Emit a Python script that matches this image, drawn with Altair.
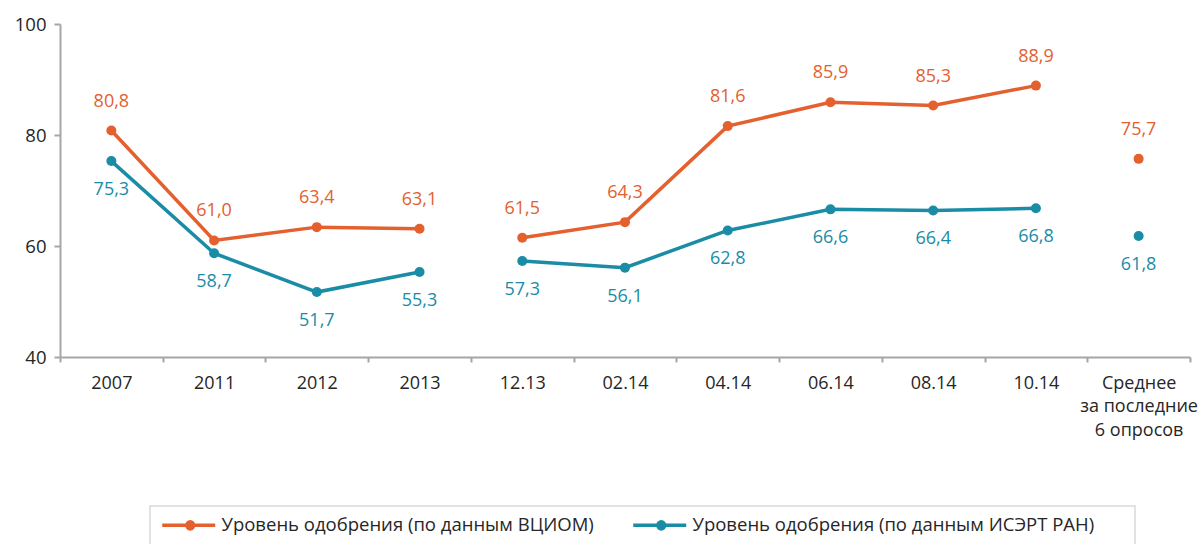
import altair as alt
import pandas as pd

categories = ["2007", "2011", "2012", "2013", "12.13", "02.14", "04.14",
              "06.14", "08.14", "10.14", "Среднее\nза последние\n6 опросов"]
vciom = [80.8, 61.0, 63.4, 63.1, 61.5, 64.3, 81.6, 85.9, 85.3, 88.9, 75.7]
isert = [75.3, 58.7, 51.7, 55.3, 57.3, 56.1, 62.8, 66.6, 66.4, 66.8, 61.8]
segments = [1, 1, 1, 1, 2, 2, 2, 2, 2, 2, 3]
series_names = ["Уровень одобрения (по данным ВЦИОМ)",
                "Уровень одобрения (по данным ИСЭРТ РАН)"]
colors = ["#E4602E", "#1A8CA6"]
y_ticks = [40, 60, 80, 100]

rows = []
for name, vals in zip(series_names, [vciom, isert]):
    for c, v, s in zip(categories, vals, segments):
        rows.append({"cat": c, "value": v, "series": name, "seg": f"{name}-{s}"})
df = pd.DataFrame(rows)

FONT = "Open Sans"
AXIS_COLOR = "#a6a6a6"
TEXT_COLOR = "#262626"

x_enc = alt.X(
    "cat:N", sort=categories,
    scale=alt.Scale(type="band", paddingInner=0, paddingOuter=0),
    axis=alt.Axis(title=None, labelAngle=0, labelExpr="split(datum.label, '\\n')",
                  tickBand="extent", domainColor=AXIS_COLOR, domainWidth=2,
                  tickColor=AXIS_COLOR, tickWidth=2, tickSize=5,
                  labelFont=FONT, labelFontSize=18, labelColor=TEXT_COLOR,
                  labelPadding=12, labelLineHeight=23.5, labelBaseline="top"),
)
y_enc = alt.Y(
    "value:Q", scale=alt.Scale(domain=[40, 100], nice=False, zero=False),
    axis=alt.Axis(title=None, values=y_ticks, grid=False, domainColor=AXIS_COLOR,
                  domainWidth=2, tickColor=AXIS_COLOR, tickWidth=2, tickSize=6,
                  labelFont=FONT, labelFontSize=18.5, labelColor=TEXT_COLOR,
                  labelPadding=8),
)

legend_symbol = ("M-1,0H7.83"
                 "M4.25,0A0.583,0.583,0,1,1,3.083,0A0.583,0.583,0,1,1,4.25,0"
                 "M3.92,0A0.25,0.25,0,1,1,3.42,0A0.25,0.25,0,1,1,3.92,0")

color_enc = alt.Color(
    "series:N", scale=alt.Scale(domain=series_names, range=colors),
    legend=alt.Legend(
        title=None, orient="none", legendX=87, legendY=480, direction="horizontal",
        symbolType=legend_symbol, symbolSize=144, symbolStrokeWidth=3.5,
        symbolFillColor="transparent",
        labelFont=FONT, labelFontSize=18.5, labelColor=TEXT_COLOR, labelLimit=700,
        labelOffset=44, columnPadding=32, padding=12, offset=0,
    ),
)

base = alt.Chart(df)
lines = base.mark_line(strokeWidth=3.5).encode(x=x_enc, y=y_enc, color=color_enc,
                                                detail="seg:N")
points = base.mark_circle(size=100, opacity=1).encode(
    x=x_enc, y=y_enc,
    color=alt.Color("series:N", scale=alt.Scale(domain=series_names, range=colors),
                    legend=None))

lbl_expr = "replace(format(datum.value, '.1f'), '.', ',')"
labels_top = base.transform_filter(alt.datum.series == series_names[0]).transform_calculate(
    lbl=lbl_expr
).mark_text(font=FONT, fontSize=18, dy=-29, baseline="middle", color=colors[0]).encode(
    x=x_enc, y=y_enc, text="lbl:N")
labels_bot = base.transform_filter(alt.datum.series == series_names[1]).transform_calculate(
    lbl=lbl_expr
).mark_text(font=FONT, fontSize=18, dy=29, baseline="middle", color=colors[1]).encode(
    x=x_enc, y=y_enc, text="lbl:N")

legend_box = alt.Chart(pd.DataFrame({"box": [0]})).mark_rect(
    fill="transparent", stroke="#d9d9d9", strokeWidth=1.5
).encode(x=alt.value(90), x2=alt.value(1075), y=alt.value(482), y2=alt.value(535))

chart = alt.layer(legend_box, lines, points, labels_top, labels_bot).properties(
    width=1130, height=333,
    padding={"left": 60, "top": 24, "right": 11, "bottom": 187},
    autosize=alt.AutoSizeParams(type="none"),
).configure_view(stroke=None)

chart.save("out.html", embed_options={"renderer": "svg", "actions": False})
